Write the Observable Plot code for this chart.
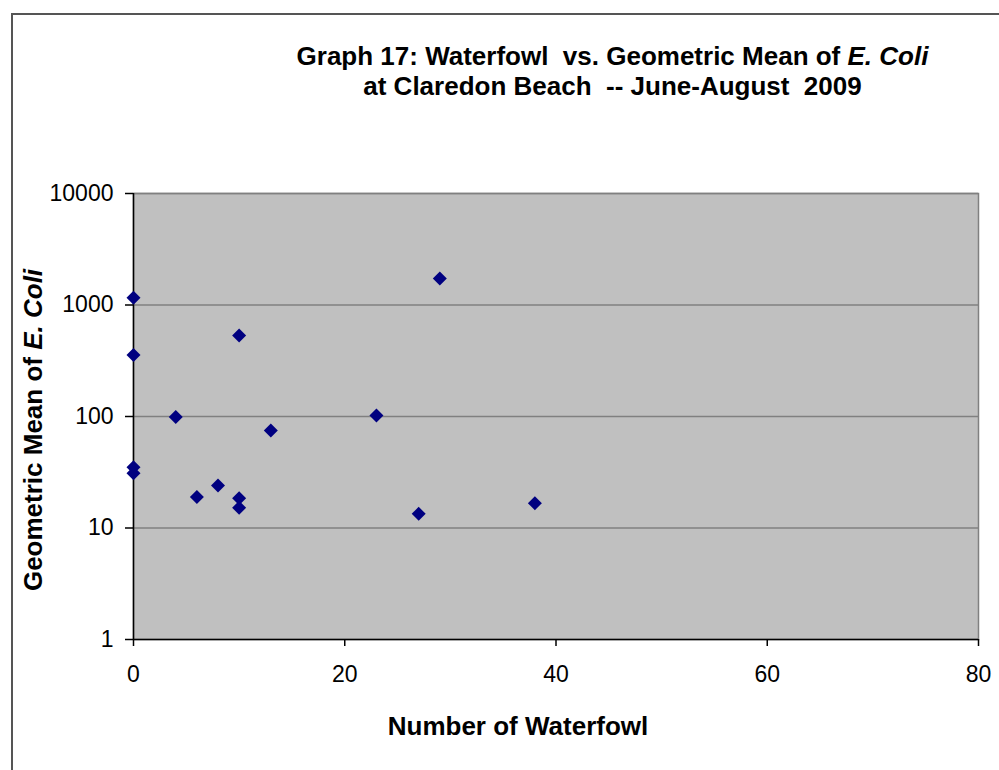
<!DOCTYPE html>
<html>
<head>
<meta charset="utf-8">
<script src="https://cdn.jsdelivr.net/npm/d3@7"></script>
<script src="https://cdn.jsdelivr.net/npm/@observablehq/plot@0.6"></script>
<style>
  body { margin: 0; background: #fff; }
  #wrap { position: relative; width: 999px; height: 770px; overflow: hidden; }
  #frame { position: absolute; left: 11px; top: 13px; width: 1000px; height: 800px; border: 2px solid #555; box-sizing: border-box; }
  #title { position: absolute; left: 0; width: 999px; top: 41px; padding-left: 226px; box-sizing: border-box; text-align: center;
    font-family: "Liberation Sans", Arial, sans-serif; font-weight: bold; font-size: 26px; line-height: 30px; color: #000; }
  #xlabel { position: absolute; left: 0; width: 1036px; top: 711px; text-align: center;
    font-family: "Liberation Sans", Arial, sans-serif; font-weight: bold; font-size: 26px; color: #000; }
  #ylabel { position: absolute; left: 33px; top: 430px; transform: translate(-50%, -50%) rotate(-90deg); white-space: nowrap;
    font-family: "Liberation Sans", Arial, sans-serif; font-weight: bold; font-size: 26px; color: #000; }
  #chart { position: absolute; left: 0; top: 0; }
</style>
</head>
<body>
<div id="wrap">
  <div id="frame"></div>
  <div id="chart"></div>
  <div id="title">Graph 17: Waterfowl&nbsp; vs. Geometric Mean of <i>E. Coli</i><br>at Claredon Beach&nbsp; -- June-August&nbsp; 2009</div>
  <div id="xlabel">Number of Waterfowl</div>
  <div id="ylabel">Geometric Mean of <i>E. Coli</i></div>
</div>
<script>
// Data
const waterfowl = [0, 0, 0, 0, 4, 6, 8, 10, 10, 10, 13, 23, 27, 29, 38];
const geoMeanEColi = [1160, 356, 35, 31, 99, 19, 24, 533, 18.5, 15.2, 75, 102, 13.4, 1730, 16.7];
const xTicks = [0, 20, 40, 60, 80];
const yTicks = [1, 10, 100, 1000, 10000];
const gridValues = [10, 100, 1000, 10000];

const points = waterfowl.map((x, i) => ({x, y: geoMeanEColi[i]}));

const chart = Plot.plot({
  width: 999,
  height: 770,
  marginLeft: 133,
  marginRight: 21,
  marginTop: 193,
  marginBottom: 131,
  style: { fontFamily: "Liberation Sans, Arial, sans-serif", fontSize: "23px", background: "transparent", color: "#000" },
  x: { domain: [0, 80], label: null },
  y: { type: "log", domain: [1, 10000], label: null },
  marks: [
    Plot.frame({ fill: "#c0c0c0", stroke: "#808080", strokeWidth: 1.5 }),
    Plot.ruleY(gridValues, { stroke: "#808080", strokeWidth: 1.5 }),
    Plot.ruleX([0], { stroke: "#000", strokeWidth: 1.5 }),
    Plot.ruleY([1], { stroke: "#000", strokeWidth: 1.5 }),
    Plot.axisX({ ticks: xTicks, tickSize: 7, tickPadding: 19, tickFormat: d => String(d), label: null, stroke: "#000", strokeWidth: 1.5 }),
    Plot.axisY({ ticks: yTicks, tickSize: 8, tickPadding: 12, tickFormat: d => String(d), label: null, stroke: "#000", strokeWidth: 1.5 }),
    Plot.dot(points, { x: "x", y: "y", symbol: "diamond2", r: 6.3, fill: "#000080", stroke: "none" })
  ]
});
document.getElementById("chart").appendChild(chart);
</script>
</body>
</html>
